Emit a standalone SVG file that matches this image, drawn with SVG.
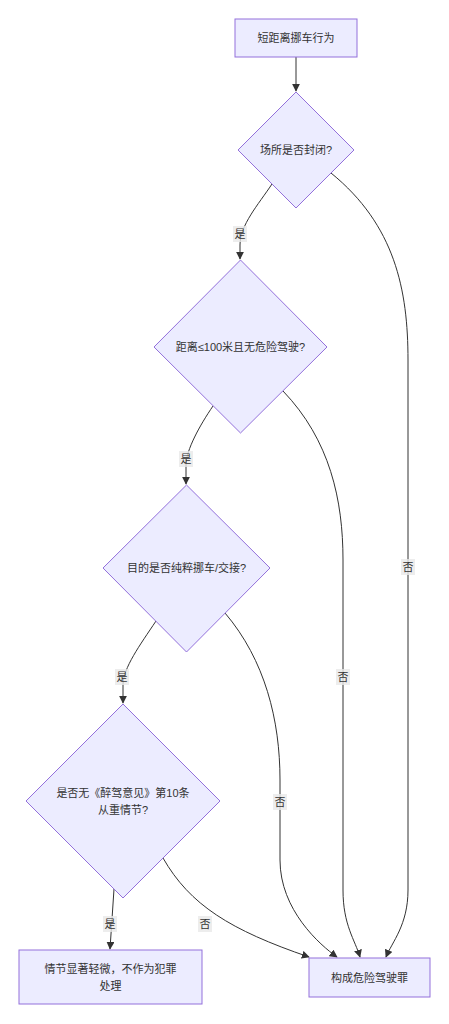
<svg xmlns="http://www.w3.org/2000/svg" width="449" height="1024" viewBox="0 0 449 1024">
<style>
.n{fill:#ECECFF;stroke:#9370DB;stroke-width:1}
.t{font-family:"Liberation Sans","Noto Sans CJK SC",sans-serif;font-size:11px;fill:#333;text-anchor:middle;dominant-baseline:central}
.e{fill:none;stroke:#333;stroke-width:1}
.lb{fill:#e8e8e8;fill-opacity:0.8}
</style>
<defs>
<marker id="a" viewBox="0 0 10 10" refX="9" refY="5" markerWidth="8" markerHeight="8" markerUnits="userSpaceOnUse" orient="auto">
<path d="M0,0L10,5L0,10z" fill="#333"/>
</marker>
</defs>
<rect width="449" height="1024" fill="#fff"/>
<g id="edges">
<path class="e" d="M296,57L296,91" marker-end="url(#a)"/>
<path class="e" d="M272,184C258,205 240,225 240,245L240,259" marker-end="url(#a)"/>
<path class="e" d="M331,173C395,225 408,290 408,360L408,890C408,925 392,942 386,957" marker-end="url(#a)"/>
<path class="e" d="M213,406C200,425 186,450 186,465L186,484" marker-end="url(#a)"/>
<path class="e" d="M283,391C330,440 343,500 343,560L343,890C343,925 355,940 360,957" marker-end="url(#a)"/>
<path class="e" d="M156,621C140,645 123,668 123,685L123,703" marker-end="url(#a)"/>
<path class="e" d="M225,613C265,660 280,720 280,780L280,860C280,910 320,945 337,957" marker-end="url(#a)"/>
<path class="e" d="M114,889L110,949" marker-end="url(#a)"/>
<path class="e" d="M163,858C190,905 230,930 309,957" marker-end="url(#a)"/>
<g id="edge-labels">
<rect class="lb" x="233" y="226" width="14" height="16"/><text class="t" x="240" y="234">是</text>
<rect class="lb" x="401" y="559" width="14" height="16"/><text class="t" x="408" y="567">否</text>
<rect class="lb" x="179" y="451" width="14" height="16"/><text class="t" x="186" y="459">是</text>
<rect class="lb" x="336" y="669" width="14" height="16"/><text class="t" x="343" y="677">否</text>
<rect class="lb" x="115" y="669" width="14" height="16"/><text class="t" x="122" y="677">是</text>
<rect class="lb" x="273" y="794" width="14" height="16"/><text class="t" x="280" y="802">否</text>
<rect class="lb" x="103" y="916" width="14" height="16"/><text class="t" x="110" y="924">是</text>
<rect class="lb" x="198" y="916" width="14" height="16"/><text class="t" x="205" y="924">否</text>
</g>
</g>
<g id="start"><rect class="n" x="235" y="19" width="122" height="38"/><text class="t" x="296" y="38">短距离挪车行为</text></g>
<g id="q1"><polygon class="n" points="296,92 354,150 296,208 238,150"/><text class="t" x="296" y="150">场所是否封闭?</text></g>
<g id="q2"><polygon class="n" points="240.5,260 327,347 240.5,433 154,347"/><text class="t" x="240.5" y="347">距离≤100米且无危险驾驶?</text></g>
<g id="q3"><polygon class="n" points="186.5,485 270,568 186.5,652 103,568"/><text class="t" x="186.5" y="568">目的是否纯粹挪车/交接?</text></g>
<g id="q4"><polygon class="n" points="123,704 220,801 123,898 26,801"/><text class="t" x="123" y="793">是否无《醉驾意见》第10条</text><text class="t" x="123" y="809.5">从重情节?</text></g>
<g id="minor"><rect class="n" x="19" y="950" width="183" height="54"/><text class="t" x="110.5" y="968.5">情节显著轻微，不作为犯罪</text><text class="t" x="110.5" y="986">处理</text></g>
<g id="crime"><rect class="n" x="309" y="958" width="121" height="39"/><text class="t" x="369.5" y="977.5">构成危险驾驶罪</text></g>
</svg>
